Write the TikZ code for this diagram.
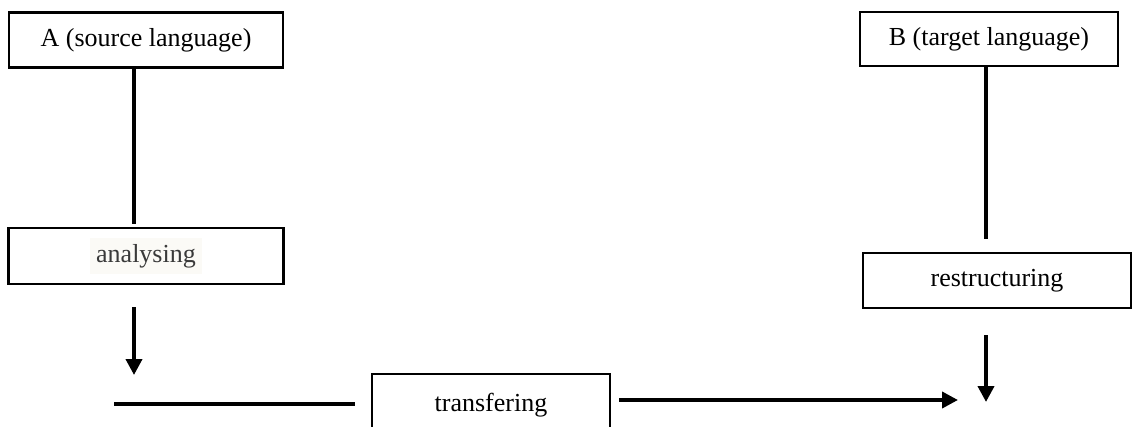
\documentclass[tikz,border=0pt]{standalone}
\usepackage{fontspec}
\setmainfont{Liberation Serif}
\usetikzlibrary{arrows.meta}
\definecolor{hl}{HTML}{FBFAF6}
\definecolor{hltext}{HTML}{3A3A3A}
\begin{document}
\begin{tikzpicture}[x=0.5pt,y=-0.5pt,
  box/.style={draw=black,line width=1.25pt,inner sep=0pt,font=\fontsize{13}{15}\selectfont},
  conn/.style={line width=1.9pt},
  arr/.style={line width=1.9pt,-{Triangle[width=8pt,length=8pt]}}]
\useasboundingbox (0,0) rectangle (1134,427);
\clip (0,0) rectangle (1134,427);
\node[box,minimum width=274*0.5pt,minimum height=55*0.5pt] (A) at (146,40) {A (source language)};
\node[box,minimum width=275*0.5pt,minimum height=56*0.5pt] (an) at (146,256) {\colorbox{hl}{\color{hltext}analysing}};
\node[box,minimum width=258*0.5pt,minimum height=54*0.5pt] (B) at (989,39) {B (target language)};
\node[box,minimum width=268*0.5pt,minimum height=55*0.5pt] (re) at (997,280.5) {restructuring};
\node[box,minimum width=238*0.5pt,minimum height=62*0.5pt] (tr) at (491,405) {transfering};
\coordinate (a1) at (134,224);
\coordinate (a2) at (134,307);
\coordinate (a3) at (134,375);
\coordinate (h1) at (114,404);
\coordinate (h2) at (355,404);
\coordinate (h3) at (619,400);
\coordinate (h4) at (958,400);
\coordinate (b1) at (986,239);
\coordinate (b2) at (986,335);
\coordinate (b3) at (986,402);
\draw[conn] (A.south -| a1) -- (a1);
\draw[arr] (a2) -- (a3);
\draw[conn] (h1) -- (h2);
\draw[arr] (h3) -- (h4);
\draw[conn] (B.south -| b1) -- (b1);
\draw[arr] (b2) -- (b3);
\end{tikzpicture}
\end{document}
